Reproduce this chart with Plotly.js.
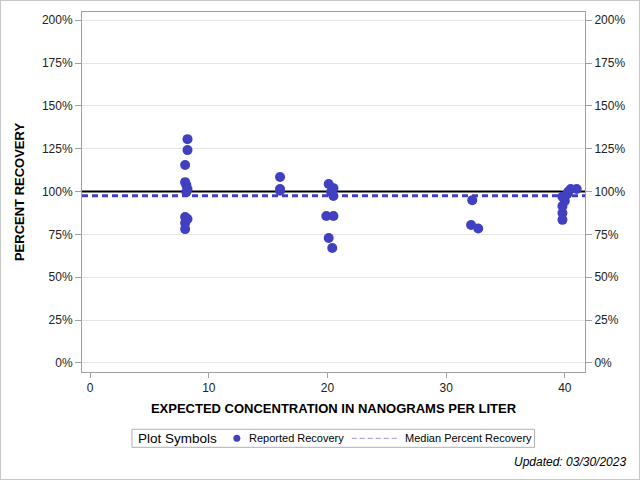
<!DOCTYPE html>
<html>
<head>
<meta charset="utf-8">
<script src="https://cdn.plot.ly/plotly-3.0.1.min.js"></script>
<style>
  html, body { margin: 0; padding: 0; background: #fff; }
  #wrap { position: relative; width: 640px; height: 480px; }
  #chart { width: 640px; height: 480px; }
  #frame { position: absolute; left: 0; top: 0; width: 638px; height: 478px; border: 1px solid #c8c8c8; pointer-events: none; }
</style>
</head>
<body>
<div id="wrap"><div id="chart"></div><div id="frame"></div></div>
<script>
// Expected concentration (ng/L) and percent recovery for each reported result
const expectedConc = [
  8.2, 8.2, 8.0, 8.0, 8.1, 8.2, 8.1, 8.0, 8.2, 8.0, 8.0,
  16.0, 16.0, 16.0,
  20.1, 20.5, 20.3, 20.5, 19.9, 20.5, 20.1, 20.4,
  32.2, 32.1, 32.7,
  39.8, 39.8, 39.8, 40.0, 39.8, 40.2, 40.3, 40.5, 41.0
];
const percentRecovery = [
  130.6, 124.2, 115.5, 105.5, 103.8, 101.5, 99.7, 85.1, 84.0, 81.6, 78.1,
  108.5, 101.5, 100.5,
  104.4, 102.0, 99.7, 97.4, 85.7, 85.7, 72.9, 67.1,
  95.0, 80.5, 78.4,
  83.5, 87.5, 91.5, 94.5, 97.0, 98.5, 100.0, 101.5, 101.5
];
const targetRecovery = 100;
const medianRecovery = 97.5;
const yTicks = [0, 25, 50, 75, 100, 125, 150, 175, 200];
const yTickLabels = ['0%', '25%', '50%', '75%', '100%', '125%', '150%', '175%', '200%'];
const xTicks = [0, 10, 20, 30, 40];
const xRange = [-0.69, 41.7];
const yRange = [-5.3, 204.8];
const legendTitle = 'Plot Symbols';
const legendNames = ['Reported Recovery', 'Median Percent Recovery'];

const blue = 'rgb(64,64,192)';
const font = 'Liberation Sans, Arial, sans-serif';

const traces = [
  {
    x: xRange, y: [targetRecovery, targetRecovery], type: 'scatter', mode: 'lines',
    line: { color: '#000', width: 2 }, showlegend: false, hoverinfo: 'skip'
  },
  {
    x: xRange, y: [medianRecovery, medianRecovery], type: 'scatter', mode: 'lines',
    line: { color: blue, width: 3, dash: '6px,4px' }, showlegend: false, hoverinfo: 'skip'
  },
  {
    x: expectedConc, y: percentRecovery, type: 'scatter', mode: 'markers', name: legendNames[0],
    marker: { color: blue, size: 10 }, showlegend: false, hoverinfo: 'x+y'
  },
  {
    x: [null], y: [null], type: 'scatter', yaxis: 'y2', showlegend: false, hoverinfo: 'skip'
  }
];

const yaxisCommon = {
  range: yRange, tickmode: 'array', tickvals: yTicks, ticktext: yTickLabels,
  ticks: 'outside', ticklen: 6, tickcolor: '#a0a0a0',
  showline: true, linecolor: '#a0a0a0', linewidth: 1,
  zeroline: false, tickfont: { family: font, size: 12, color: '#222' }
};

// legend box geometry (paper units, computed from plot area size 503.5 x 360 px)
const px = v => (v - 82) / 503.5;
const py = v => (371.7 - v) / 360;
const legY = 438;

const layout = {
  width: 640, height: 480,
  margin: { l: 82, r: 54.5, t: 11.7, b: 108.3 },
  paper_bgcolor: '#fff', plot_bgcolor: '#fff',
  font: { family: font, color: '#000' },
  showlegend: false,
  xaxis: {
    range: xRange, tickvals: xTicks, ticks: 'outside', ticklen: 5, tickcolor: '#a0a0a0',
    showline: true, mirror: true, linecolor: '#a0a0a0', linewidth: 1,
    showgrid: false, zeroline: false,
    tickfont: { family: font, size: 12, color: '#222' },
    title: { text: 'EXPECTED CONCENTRATION IN NANOGRAMS PER LITER', font: { family: font, size: 13, color: '#000', weight: 'bold' }, standoff: 9 }
  },
  yaxis: Object.assign({}, yaxisCommon, {
    side: 'left', showgrid: true, gridcolor: '#e6e6e6', gridwidth: 1,
    title: { text: 'PERCENT RECOVERY', font: { family: font, size: 13, color: '#000', weight: 'bold' }, standoff: 14 }
  }),
  yaxis2: Object.assign({}, yaxisCommon, {
    side: 'right', overlaying: 'y', showgrid: false
  }),
  shapes: [
    { type: 'rect', xref: 'paper', yref: 'paper', x0: px(132), x1: px(535), y0: py(447), y1: py(429),
      line: { color: '#b0b0b0', width: 1 }, fillcolor: 'rgba(0,0,0,0)' },
    { type: 'circle', xref: 'paper', yref: 'paper', x0: px(233.5), x1: px(240.5), y0: py(441.5), y1: py(434.5),
      line: { color: blue, width: 0 }, fillcolor: blue },
    { type: 'line', xref: 'paper', yref: 'paper', x0: px(352), x1: px(398), y0: py(legY), y1: py(legY),
      line: { color: 'rgb(150,150,220)', width: 1, dash: '5px,3px' } }
  ],
  annotations: [
    { text: legendTitle, xref: 'paper', yref: 'paper', x: px(136), y: py(legY),
      xanchor: 'left', yanchor: 'middle', showarrow: false,
      font: { family: font, size: 13.5, color: '#000' } },
    { text: legendNames[0], xref: 'paper', yref: 'paper', x: px(247), y: py(legY),
      xanchor: 'left', yanchor: 'middle', showarrow: false,
      font: { family: font, size: 11, color: '#000' } },
    { text: legendNames[1], xref: 'paper', yref: 'paper', x: px(403), y: py(legY),
      xanchor: 'left', yanchor: 'middle', showarrow: false,
      font: { family: font, size: 11, color: '#000' } },
    { text: 'Updated: 03/30/2023', xref: 'paper', yref: 'paper', x: px(629), y: py(462),
      xanchor: 'right', yanchor: 'middle', showarrow: false,
      font: { family: font, size: 12, color: '#000', style: 'italic' } }
  ]
};

Plotly.newPlot('chart', traces, layout, { staticPlot: true, displayModeBar: false });
</script>
</body>
</html>
